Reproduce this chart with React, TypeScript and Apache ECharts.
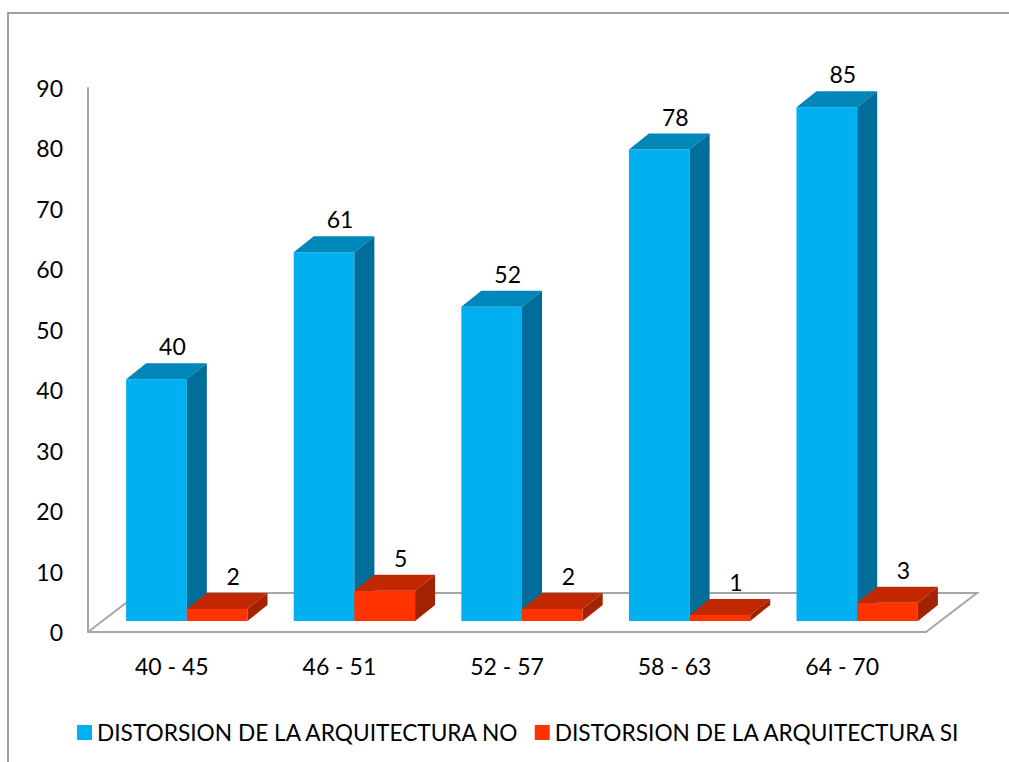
import React, { useEffect, useRef } from "react";
import * as echarts from "echarts";

const categories = ["40 - 45", "46 - 51", "52 - 57", "58 - 63", "64 - 70"];
const seriesNames = ["DISTORSION DE LA ARQUITECTURA NO", "DISTORSION DE LA ARQUITECTURA SI"];
const valuesNo = [40, 61, 52, 78, 85];
const valuesSi = [2, 5, 2, 1, 3];
const yTicks = { min: 0, max: 90, interval: 10 };

const FONT = "Lato, 'Open Sans', sans-serif";
const FS = 23;
const AXIS_GRAY = "#A6A6A6";

const palettes = [
  { front: "#00B0F0", top: "#0087BA", side: "#006E98" },
  { front: "#FF3300", top: "#C22800", side: "#A32200" },
];

function makeBarRender(which: number) {
  return (params: any, api: any) => {
    const ci = api.value(0);
    const v = api.value(1);
    const base = api.coord([ci, 0]);
    const top = api.coord([ci, v]);
    const bw = api.size([1, 0])[0];
    const w = bw * 0.362;
    const sx = 15, sy = -11;
    const dx = 20, dy = -16;
    const x0 = which === 0 ? base[0] + sx - w : base[0] + sx;
    const x1 = x0 + w;
    const yb = base[1] + sy;
    const yt = top[1] + sy;
    const p = palettes[which];
    return {
      type: "group",
      children: [
        {
          type: "rect",
          shape: { x: x0, y: yt, width: w, height: yb - yt },
          style: { fill: p.front },
        },
        {
          type: "polygon",
          shape: { points: [[x0, yt], [x1, yt], [x1 + dx, yt + dy], [x0 + dx, yt + dy]] },
          style: { fill: p.top },
        },
        {
          type: "polygon",
          shape: { points: [[x1, yt], [x1 + dx, yt + dy], [x1 + dx, yb + dy], [x1, yb]] },
          style: { fill: p.side },
        },
        {
          type: "text",
          style: {
            text: String(v),
            x: (x0 + x1) / 2 + 16,
            y: yt + dy - 17,
            align: "center",
            verticalAlign: "middle",
            fill: "#000000",
            font: `${FS}px ${FONT}`,
          },
          z2: 10,
        },
      ],
    };
  };
}

function floorRender(params: any, api: any) {
  const bw = api.size([1, 0])[0];
  const a = api.coord([0, 0]);
  const b = api.coord([categories.length - 1, 0]);
  const left = a[0] - bw / 2;
  const right = b[0] + bw / 2;
  const y0 = a[1];
  const ddx = 51, ddy = -39;
  return {
    type: "polyline",
    shape: {
      points: [[left, y0], [left + ddx, y0 + ddy], [right + ddx, y0 + ddy], [right, y0]],
    },
    style: { stroke: AXIS_GRAY, lineWidth: 2, fill: "none" },
  };
}

export default function App() {
  const ref = useRef<HTMLDivElement>(null);
  useEffect(() => {
    document.body.style.margin = "0";
    if (!ref.current) return;
    const chart = echarts.init(ref.current, undefined, { renderer: "svg" });
    chart.setOption({
      animation: false,
      backgroundColor: "#FFFFFF",
      grid: { left: 88, right: 83, top: 88, bottom: 130, containLabel: false },
      xAxis: {
        type: "category",
        data: categories,
        axisLine: { show: true, lineStyle: { color: AXIS_GRAY, width: 2 } },
        axisTick: { show: false },
        axisLabel: { fontSize: FS, fontFamily: FONT, color: "#000000", margin: 22 },
      },
      yAxis: {
        type: "value",
        min: yTicks.min,
        max: yTicks.max,
        interval: yTicks.interval,
        axisLine: { show: true, lineStyle: { color: AXIS_GRAY, width: 2 } },
        axisTick: { show: false },
        splitLine: { show: false },
        axisLabel: { fontSize: FS, fontFamily: FONT, color: "#000000", margin: 25 },
      },
      legend: {
        data: seriesNames,
        left: 72,
        top: 716,
        icon: "rect",
        itemWidth: 15,
        itemHeight: 15,
        itemGap: 15,
        textStyle: { fontSize: 22.7, fontFamily: FONT, color: "#000000" },
      },
      graphic: [
        {
          type: "rect",
          shape: { x: 8, y: 13, width: 1100, height: 900 },
          style: { fill: "none", stroke: "#A0A0A0", lineWidth: 2 },
          silent: true,
        },
      ],
      series: [
        {
          type: "custom",
          name: "floor",
          renderItem: floorRender,
          data: [[0, 0]],
          z: 1,
          silent: true,
        },
        {
          type: "custom",
          name: seriesNames[0],
          renderItem: makeBarRender(0),
          data: valuesNo.map((v, i) => [i, v]),
          itemStyle: { color: palettes[0].front },
          z: 2,
        },
        {
          type: "custom",
          name: seriesNames[1],
          renderItem: makeBarRender(1),
          data: valuesSi.map((v, i) => [i, v]),
          itemStyle: { color: palettes[1].front },
          z: 3,
        },
      ],
    });
    return () => chart.dispose();
  }, []);
  return <div ref={ref} style={{ width: 1009, height: 762, overflow: "hidden" }} />;
}
